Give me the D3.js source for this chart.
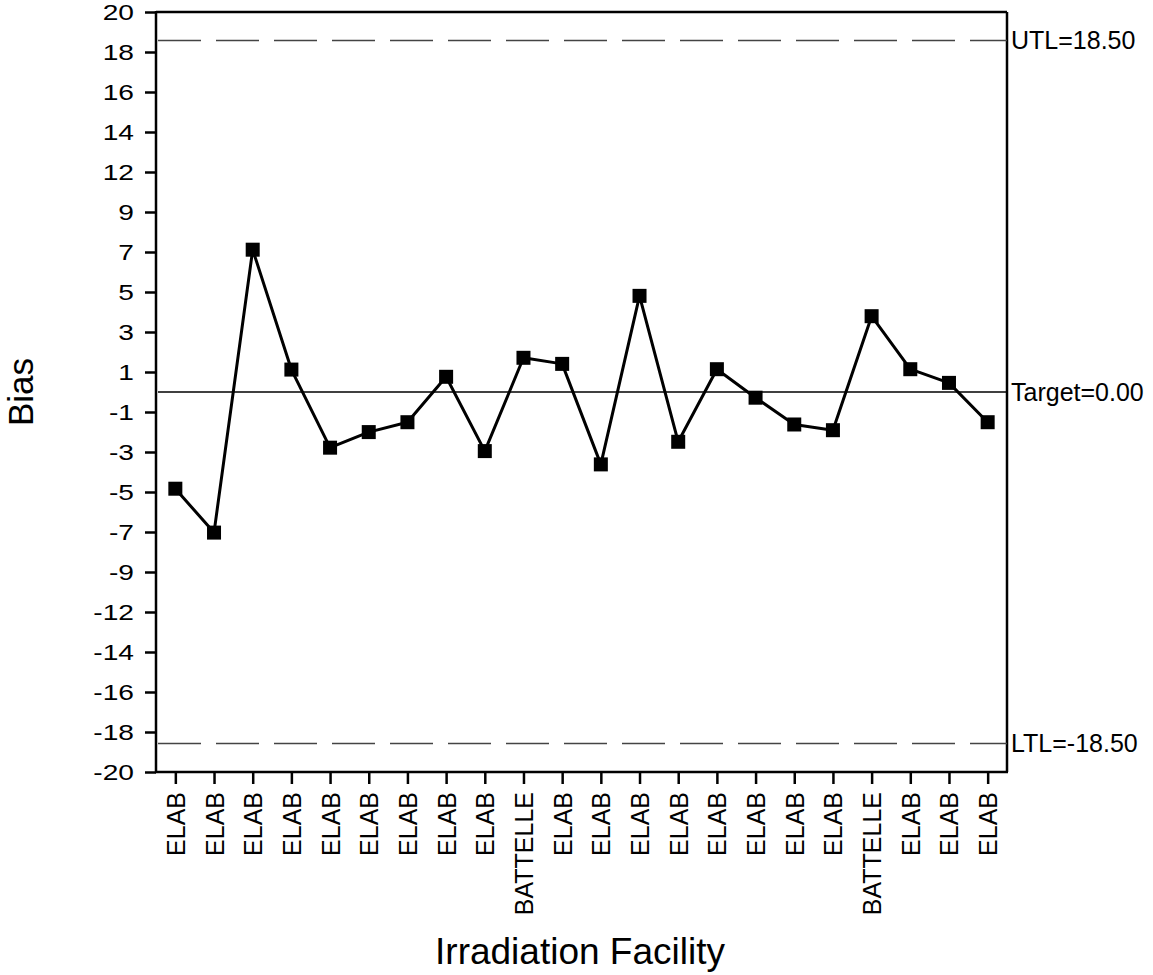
<!DOCTYPE html>
<html>
<head>
<meta charset="utf-8">
<script src="https://cdn.jsdelivr.net/npm/d3@7"></script>
<style>
  html, body { margin: 0; padding: 0; background: #fff; }
  svg { display: block; font-family: "Liberation Sans", Arial, sans-serif; }
</style>
</head>
<body>
<svg id="chart" width="1153" height="975"></svg>
<script>
// Irradiation facility for each run
const facilities = [
  "ELAB", "ELAB", "ELAB", "ELAB", "ELAB", "ELAB", "ELAB", "ELAB", "ELAB",
  "BATTELLE",
  "ELAB", "ELAB", "ELAB", "ELAB", "ELAB", "ELAB", "ELAB", "ELAB",
  "BATTELLE",
  "ELAB", "ELAB", "ELAB"
];

// Bias of each run
const bias = [
  -5.09, -7.40, 7.49, 1.18, -2.93, -2.11, -1.59, 0.80, -3.11, 1.80, 1.48,
  -3.81, 5.06, -2.62, 1.20, -0.30, -1.71, -2.01, 3.99, 1.20, 0.48, -1.59
];

// Y axis labels, evenly spaced from top to bottom of the axis
const yTickLabels = ["20", "18", "16", "14", "12", "9", "7", "5", "3", "1",
                     "-1", "-3", "-5", "-7", "-9", "-12", "-14", "-16", "-18", "-20"];
const yDomain = [-20, 20];

// Reference lines
const limitNames = ["UTL", "Target", "LTL"];
const limitValues = [18.5, 0, -18.5];

const margin = { left: 156, top: 12, right: 1007, bottom: 772 };
const svg = d3.select("#chart");

const x = d3.scalePoint()
  .domain(d3.range(facilities.length))
  .range([margin.left, margin.right])
  .padding(0.5);

const y = d3.scaleLinear().domain(yDomain).range([margin.bottom, margin.top]);

const step = (yDomain[1] - yDomain[0]) / (yTickLabels.length - 1);
const yTickValues = yTickLabels.map((_, i) => yDomain[1] - i * step);

// Frame: top and right borders
svg.append("line")
  .attr("x1", margin.left).attr("x2", margin.right)
  .attr("y1", margin.top).attr("y2", margin.top)
  .attr("stroke", "#000").attr("stroke-width", 2.5);
svg.append("line")
  .attr("x1", margin.right).attr("x2", margin.right)
  .attr("y1", margin.top).attr("y2", margin.bottom)
  .attr("stroke", "#000").attr("stroke-width", 2.5);

// Reference lines (limits dashed, target solid)
const limits = limitNames.map((n, i) => ({ name: n, value: limitValues[i] }));
svg.append("g").selectAll("line")
  .data(limits)
  .join("line")
  .attr("x1", margin.left + 2).attr("x2", margin.right)
  .attr("y1", d => y(d.value)).attr("y2", d => y(d.value))
  .attr("stroke", d => d.value === 0 ? "#000" : "#444")
  .attr("stroke-width", d => d.value === 0 ? 1.4 : 1.6)
  .attr("stroke-dasharray", d => d.value === 0 ? null : "43 15");

svg.append("g").selectAll("text")
  .data(limits)
  .join("text")
  .attr("x", margin.right + 4)
  .attr("y", d => y(d.value))
  .attr("dy", "0.35em")
  .attr("font-size", 25)
  .attr("fill", "#000")
  .text(d => `${d.name}=${d.value.toFixed(2)}`);

// Y axis
const yAxis = d3.axisLeft(y)
  .tickValues(yTickValues)
  .tickFormat((d, i) => yTickLabels[i])
  .tickSize(11)
  .tickSizeOuter(0);

const gy = svg.append("g")
  .attr("transform", `translate(${margin.left},0)`)
  .call(yAxis);
gy.select(".domain").attr("stroke-width", 2.5).attr("d", `M0,${margin.top - 1}V${margin.bottom + 1}`);
gy.selectAll(".tick line").attr("stroke-width", 2.5);
gy.selectAll(".tick text")
  .attr("x", null)
  .attr("transform", "translate(-22,0) scale(1.28,1)")
  .attr("font-size", 22)
  .attr("fill", "#000");

// X axis
const xAxis = d3.axisBottom(x)
  .tickFormat(i => facilities[i])
  .tickSize(12)
  .tickSizeOuter(0);

const gx = svg.append("g")
  .attr("transform", `translate(0,${margin.bottom})`)
  .call(xAxis);
gx.select(".domain").attr("stroke-width", 2.5).attr("d", `M${margin.left - 1},0H${margin.right + 1}`);
gx.selectAll(".tick line").attr("stroke-width", 2.5);
gx.selectAll(".tick text")
  .attr("font-size", 25)
  .attr("fill", "#000")
  .attr("text-anchor", "end")
  .attr("transform", "rotate(-90)")
  .attr("x", -20)
  .attr("y", 0)
  .attr("dy", "0.36em");

// Data line
const line = d3.line()
  .x((d, i) => x(i))
  .y(d => y(d));

svg.append("path")
  .datum(bias)
  .attr("fill", "none")
  .attr("stroke", "#000")
  .attr("stroke-width", 3)
  .attr("stroke-linejoin", "round")
  .attr("d", line);

// Square markers
const ms = 14;
svg.append("g").selectAll("rect")
  .data(bias)
  .join("rect")
  .attr("x", (d, i) => x(i) - ms / 2)
  .attr("y", d => y(d) - ms / 2)
  .attr("width", ms)
  .attr("height", ms)
  .attr("fill", "#000");

// Axis titles
svg.append("text")
  .attr("transform", `translate(33,${(margin.top + margin.bottom) / 2}) rotate(-90)`)
  .attr("text-anchor", "middle")
  .attr("font-size", 35)
  .attr("fill", "#000")
  .text("Bias");

svg.append("text")
  .attr("x", 580)
  .attr("y", 964)
  .attr("text-anchor", "middle")
  .attr("font-size", 37)
  .attr("fill", "#000")
  .text("Irradiation Facility");
</script>
</body>
</html>
